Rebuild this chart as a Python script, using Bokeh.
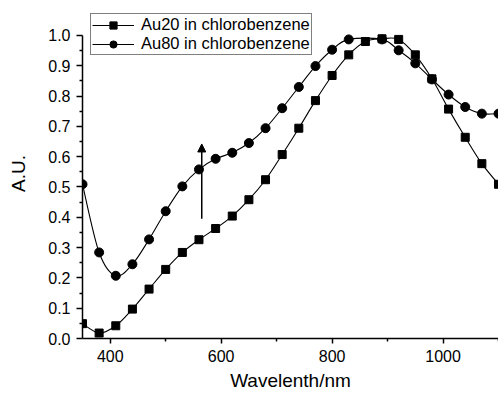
from bokeh.plotting import figure
from bokeh.models import (Range1d, Legend, LegendItem, Arrow, NormalHead,
                          NumeralTickFormatter, FixedTicker)
from bokeh.embed import file_html
from bokeh.resources import INLINE

# ---- data ----
au20_x = [350, 380, 410, 440, 470, 500, 530, 560, 590, 620, 650, 680, 710,
          740, 770, 800, 830, 860, 890, 920, 950, 980, 1010, 1040, 1070, 1100]
au20_y = [0.049, 0.018, 0.042, 0.097, 0.163, 0.228, 0.284, 0.326, 0.363, 0.404,
          0.458, 0.524, 0.607, 0.694, 0.785, 0.868, 0.936, 0.980, 0.989, 0.987,
          0.936, 0.857, 0.757, 0.664, 0.577, 0.509]
au80_x = [350, 380, 410, 440, 470, 500, 530, 560, 590, 620, 650, 680, 710,
          740, 770, 800, 830, 890, 920, 950, 980, 1010, 1040, 1070, 1100]
au80_y = [0.509, 0.284, 0.207, 0.245, 0.327, 0.420, 0.502, 0.558, 0.593, 0.613,
          0.645, 0.694, 0.760, 0.830, 0.899, 0.953, 0.987, 0.987, 0.951, 0.908,
          0.855, 0.805, 0.764, 0.742, 0.742]
labels = ["Au20 in chlorobenzene", "Au80 in chlorobenzene"]
x_ticks = [400, 600, 800, 1000]
x_minor = [500, 700, 900, 1100]
y_ticks = [0.0, 0.1, 0.2, 0.3, 0.4, 0.5, 0.6, 0.7, 0.8, 0.9, 1.0]
y_minor = [0.05, 0.15, 0.25, 0.35, 0.45, 0.55, 0.65, 0.75, 0.85, 0.95]
arrow_x = 565
arrow_y = [0.395, 0.642]

FONT = "Liberation Sans"


def smooth_segments(xs, ys):
    """Catmull-Rom curve through the data, as cubic Bezier segments."""
    n = len(xs)
    d = dict(x0=[], y0=[], x1=[], y1=[], cx0=[], cy0=[], cx1=[], cy1=[])
    for i in range(n - 1):
        xm, ym = (xs[i - 1], ys[i - 1]) if i > 0 else (xs[i], ys[i])
        xp, yp = (xs[i + 2], ys[i + 2]) if i + 2 < n else (xs[i + 1], ys[i + 1])
        d["x0"].append(xs[i]); d["y0"].append(ys[i])
        d["x1"].append(xs[i + 1]); d["y1"].append(ys[i + 1])
        d["cx0"].append(xs[i] + (xs[i + 1] - xm) / 6)
        d["cy0"].append(ys[i] + (ys[i + 1] - ym) / 6)
        d["cx1"].append(xs[i + 1] - (xp - xs[i]) / 6)
        d["cy1"].append(ys[i + 1] - (yp - ys[i]) / 6)
    return d


p = figure(width=498, height=394, output_backend="svg", toolbar_location=None,
           x_range=Range1d(350, 1100), y_range=Range1d(0, 1.089),
           min_border_left=82, min_border_right=0, min_border_top=8,
           min_border_bottom=56)
p.outline_line_color = None
p.xgrid.visible = False
p.ygrid.visible = False
p.background_fill_color = "white"
p.border_fill_color = "white"

b20 = p.bezier(line_color="black", line_width=1.1, **smooth_segments(au20_x, au20_y))
m20 = p.scatter(au20_x, au20_y, marker="square", size=8,
                fill_color="black", line_color="black")
b80 = p.bezier(line_color="black", line_width=1.1, **smooth_segments(au80_x, au80_y))
m80 = p.scatter(au80_x, au80_y, marker="circle", size=9,
                fill_color="black", line_color="black")

p.add_layout(Arrow(end=NormalHead(size=8, fill_color="black", line_color="black"),
                   x_start=arrow_x, y_start=arrow_y[0], x_end=arrow_x, y_end=arrow_y[1],
                   line_color="black", line_width=1.5))

p.xaxis.ticker = FixedTicker(ticks=x_ticks, minor_ticks=x_minor)
p.yaxis.ticker = FixedTicker(ticks=y_ticks, minor_ticks=y_minor)
p.yaxis.bounds = (y_ticks[0], y_ticks[-1])
p.yaxis.formatter = NumeralTickFormatter(format="0.0")
p.xaxis.axis_label = "Wavelenth/nm"
p.yaxis.axis_label = "A.U."

for ax in (p.xaxis, p.yaxis):
    ax.axis_line_color = "black"
    ax.axis_line_width = 1.5
    ax.major_tick_line_color = "black"
    ax.minor_tick_line_color = "black"
    ax.major_tick_line_width = 1.5
    ax.minor_tick_line_width = 1.5
    ax.major_tick_in = 0
    ax.minor_tick_in = 0
    ax.minor_tick_out = 3
    ax.major_label_text_font = FONT
    ax.major_label_text_font_size = "16px"
    ax.major_label_text_color = "black"
    ax.axis_label_text_font = FONT
    ax.axis_label_text_font_size = "19px"
    ax.axis_label_text_font_style = "normal"
    ax.axis_label_text_color = "black"

p.xaxis.major_tick_out = 5
p.xaxis.major_label_standoff = 6
p.xaxis.axis_label_standoff = 5
p.yaxis.major_tick_out = 6
p.yaxis.major_label_standoff = 6
p.yaxis.axis_label_standoff = 16

legend = Legend(items=[LegendItem(label=labels[0], renderers=[b20, m20]),
                       LegendItem(label=labels[1], renderers=[b80, m80])],
                location=(8, 283), padding=1, spacing=-3, margin=0,
                glyph_width=42, glyph_height=18, label_height=18,
                label_standoff=7, label_text_font=FONT,
                label_text_font_size="16.5px", label_text_color="black",
                border_line_color="black", border_line_width=1,
                background_fill_color="white", background_fill_alpha=1)
p.add_layout(legend, "center")

open("out.html", "w").write(file_html(p, INLINE))
